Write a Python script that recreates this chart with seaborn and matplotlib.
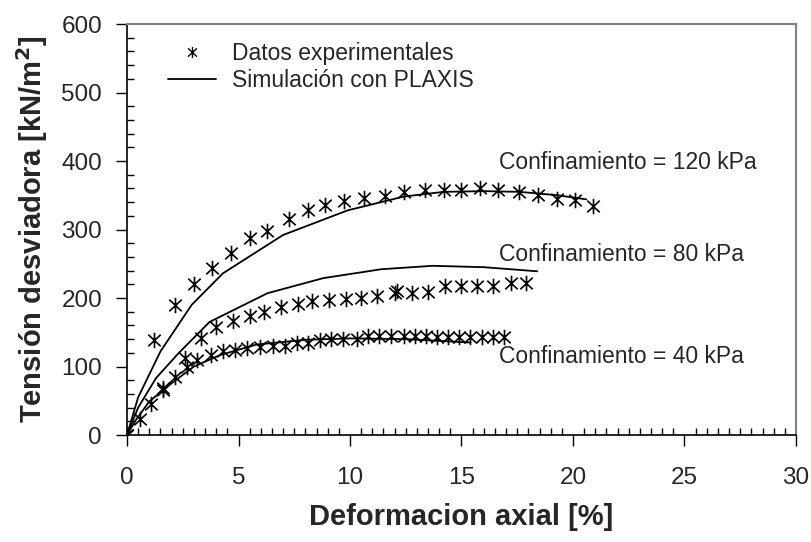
import pandas as pd
import seaborn as sns
import matplotlib.pyplot as plt
from matplotlib.lines import Line2D
from matplotlib.path import Path
from matplotlib.ticker import MultipleLocator

exp120_x = [0, 1.2, 2.15, 3.0, 3.8, 4.65, 5.5, 6.3, 7.25, 8.1, 8.9, 9.75, 10.65, 11.55, 12.4,
            13.35, 14.2, 15.0, 15.85, 16.65, 17.6, 18.45, 19.3, 20.1, 20.9]
exp120_y = [0, 139, 190, 221, 244, 265, 288, 298, 315, 328, 336, 342, 346, 349, 355,
            358, 358, 358, 360, 358, 355, 350, 345, 343, 334]

exp80_x = [0, 1.6, 2.6, 3.3, 4.0, 4.75, 5.5, 6.15, 6.9, 7.65, 8.3, 9.05, 9.8, 10.5, 11.2,
           12.0, 12.1, 12.8, 13.5, 14.25, 15.0, 15.7, 16.4, 17.2, 17.9]
exp80_y = [0, 65, 112, 141, 158, 166, 174, 180, 187, 191, 196, 197, 198, 200, 203,
           207, 210, 208, 209, 217, 217, 217, 217, 222, 222]

exp40_x = [0, 0.58, 1.08, 1.6, 2.15, 2.68, 3.16, 3.75, 4.32, 4.84, 5.4, 5.96, 6.53, 7.09,
           7.61, 8.13, 8.65, 9.15, 9.7, 10.3, 10.8, 11.3, 11.85, 12.4, 12.9, 13.4, 13.9,
           14.4, 14.9, 15.4, 15.9, 16.4, 16.9]
exp40_y = [0, 24, 45, 68, 85, 100, 110, 117, 122, 124, 127, 128, 130, 130,
           134, 135, 139, 140, 140, 140, 144, 144, 144, 144, 144, 144, 143,
           143, 143, 143, 143, 143, 143]

# PLAXIS simulation curves
sim120_x = [0, 0.5, 1.5, 2.9, 4.3, 7.0, 9.9, 12.4, 14.2, 16.0, 17.6, 19.3, 20.6]
sim120_y = [0, 55, 122, 190, 236, 292, 328, 348, 355, 356, 355, 350, 344]

sim80_x = [0, 0.5, 1.3, 2.3, 3.7, 6.3, 8.8, 11.4, 13.7, 16.0, 18.4]
sim80_y = [0, 40, 83, 119, 165, 207, 229, 242, 247, 245, 239]

sim40_x = [0, 0.4, 1.0, 1.9, 3.0, 4.2, 5.8, 8.0, 10.0, 12.5, 15.4]
sim40_y = [0, 22, 49, 73, 100, 117, 132, 139, 141, 140, 135]

labels = ['Confinamiento = 120 kPa', 'Confinamiento = 80 kPa', 'Confinamiento = 40 kPa']
label_pos = [(16.7, 398), (16.7, 263), (16.7, 114)]

df_exp = pd.concat([
    pd.DataFrame({'x': exp120_x, 'y': exp120_y, 'conf': '120'}),
    pd.DataFrame({'x': exp80_x, 'y': exp80_y, 'conf': '80'}),
    pd.DataFrame({'x': exp40_x, 'y': exp40_y, 'conf': '40'}),
])
df_sim = pd.concat([
    pd.DataFrame({'x': sim120_x, 'y': sim120_y, 'conf': '120'}),
    pd.DataFrame({'x': sim80_x, 'y': sim80_y, 'conf': '80'}),
    pd.DataFrame({'x': sim40_x, 'y': sim40_y, 'conf': '40'}),
])

sns.set_style('ticks')
plt.rcParams['font.family'] = ['Liberation Sans', 'DejaVu Sans']

# asterisk marker: vertical bar plus an X
star = Path([(0, -1), (0, 1), (-0.8, -0.75), (0.8, 0.75), (-0.8, 0.75), (0.8, -0.75)],
            [Path.MOVETO, Path.LINETO] * 3)

fig = plt.figure(figsize=(8.11, 5.42), dpi=100)
ax = fig.add_axes([0.1566, 0.1974, 0.8249, 0.7583])

sns.lineplot(data=df_sim, x='x', y='y', units='conf', estimator=None, sort=False,
             color='black', linewidth=1.3, ax=ax, legend=False)
sns.scatterplot(data=df_exp, x='x', y='y', marker=star, s=125, color='black',
                edgecolor='black', linewidth=1.2, ax=ax, legend=False, zorder=3)

for txt, (tx, ty) in zip(labels, label_pos):
    ax.text(tx, ty, txt, fontsize=16.5, ha='left', va='center')

ax.set_xlim(0, 30)
ax.set_ylim(0, 600)
ax.xaxis.set_major_locator(MultipleLocator(5))
ax.xaxis.set_minor_locator(MultipleLocator(0.5))
ax.yaxis.set_major_locator(MultipleLocator(100))
ax.yaxis.set_minor_locator(MultipleLocator(20))
ax.tick_params(which='major', direction='out', length=8, width=1, labelsize=17.5, color='black')
ax.tick_params(which='minor', direction='in', length=5, width=1, color='black')
ax.tick_params(axis='x', which='major', pad=15)
ax.tick_params(axis='y', which='major', pad=10)

for side in ['left', 'bottom']:
    ax.spines[side].set_color('black')
    ax.spines[side].set_linewidth(1.2)
for side in ['top', 'right']:
    ax.spines[side].set_visible(True)
    ax.spines[side].set_color('#808080')
    ax.spines[side].set_linewidth(1.5)

ax.set_xlabel('Deformacion axial [%]', fontsize=21, fontweight='bold', labelpad=10)
ax.set_ylabel('Tensión desviadora [kN/m$^\\mathbf{2}$]', fontsize=21, fontweight='bold', labelpad=8)

handles = [
    Line2D([], [], linestyle='none', marker=star, markersize=8, color='black',
           markeredgewidth=1.0),
    Line2D([], [], color='black', linewidth=1.3),
]
ax.legend(handles, ['Datos experimentales', 'Simulación con PLAXIS'], loc='upper left',
          bbox_to_anchor=(0.061, 0.957), frameon=False, fontsize=16.5, handlelength=2.1,
          handletextpad=0.7, labelspacing=0.2, borderaxespad=0, borderpad=0)

fig.savefig('out.png', dpi=100)
